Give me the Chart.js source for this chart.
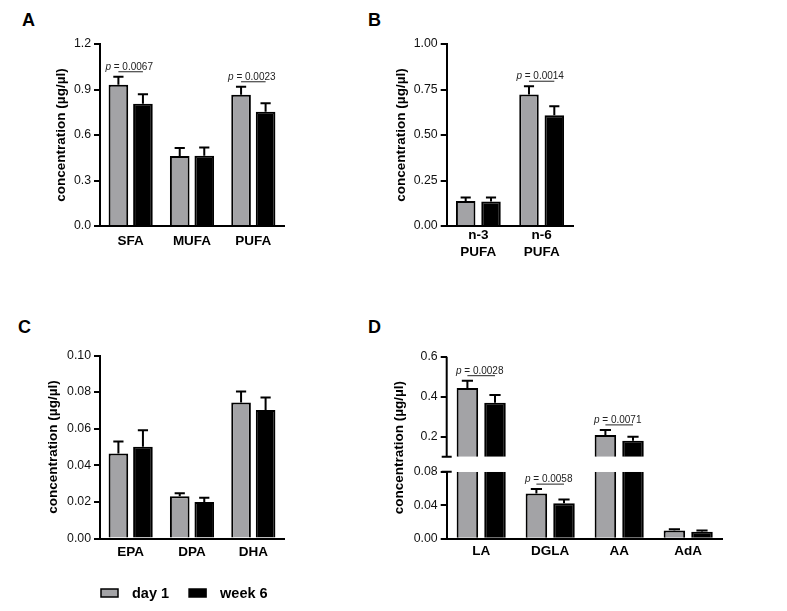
<!DOCTYPE html>
<html><head><meta charset="utf-8">
<script src="https://cdn.jsdelivr.net/npm/chart.js@4.4.0/dist/chart.umd.min.js"></script>
<style>
html,body{margin:0;padding:0;background:#fff;width:787px;height:611px;overflow:hidden;font-family:"Liberation Sans",Arial,sans-serif;}
canvas{position:absolute;}
.letter{position:absolute;font:bold 18px/18px "Liberation Sans",Arial,sans-serif;color:#000;}
</style></head><body>
<div class="letter" style="left:22px;top:11px">A</div>
<div class="letter" style="left:368px;top:11px">B</div>
<div class="letter" style="left:18px;top:318px">C</div>
<div class="letter" style="left:368px;top:318px">D</div>
<canvas id="cA" width="300" height="270" style="left:0;top:0"></canvas>
<canvas id="cB" width="200" height="270" style="left:380px;top:0"></canvas>
<canvas id="cC" width="300" height="311" style="left:0;top:300px"></canvas>
<canvas id="cD" width="400" height="270" style="left:380px;top:300px"></canvas>
<script>
// ---------- DATA ----------
const SERIES_NAMES = ['day 1', 'week 6'];
const Y_TITLE = 'concentration (µg/µl)';

const LABELS_A = ['SFA', 'MUFA', 'PUFA'];
const DAY1_A = [0.932, 0.462, 0.866];
const DAY1_A_ERR = [0.052, 0.052, 0.052];
const WEEK6_A = [0.806, 0.464, 0.753];
const WEEK6_A_ERR = [0.062, 0.054, 0.056];
const P_A = ['0.0067', null, '0.0023'];
const TICKS_A = [0, 0.3, 0.6, 0.9, 1.2];

const LABELS_B = [['n-3', 'PUFA'], ['n-6', 'PUFA']];
const DAY1_B = [0.138, 0.722];
const DAY1_B_ERR = [0.018, 0.046];
const WEEK6_B = [0.134, 0.608];
const WEEK6_B_ERR = [0.022, 0.050];
const P_B = [null, '0.0014'];
const TICKS_B = [0, 0.25, 0.5, 0.75, 1.0];

const LABELS_C = ['EPA', 'DPA', 'DHA'];
const DAY1_C = [0.0465, 0.0231, 0.0743];
const DAY1_C_ERR = [0.0065, 0.0016, 0.0060];
const WEEK6_C = [0.0502, 0.0200, 0.0702];
const WEEK6_C_ERR = [0.0089, 0.0022, 0.0069];
const P_C = [null, null, null];
const TICKS_C = [0, 0.02, 0.04, 0.06, 0.08, 0.10];

const LABELS_D = ['LA', 'DGLA', 'AA', 'AdA'];
const DAY1_D = [0.444, 0.0541, 0.208, 0.0098];
const DAY1_D_ERR = [0.036, 0.0051, 0.026, 0.0016];
const WEEK6_D = [0.370, 0.0424, 0.180, 0.0082];
const WEEK6_D_ERR = [0.038, 0.0043, 0.020, 0.0016];
const P_D = ['0.0028', '0.0058', '0.0071', null];
const TICKS_D_LOW = [0, 0.04, 0.08];
const TICKS_D_HIGH = [0.2, 0.4, 0.6];
const BREAK_LOW = 0.08;   // top of lower axis segment
const BREAK_HIGH = 0.1;   // bottom of upper axis segment

// ---------- STYLE ----------
const FONT = '"Liberation Sans", Arial, sans-serif';
const GRAY = '#a3a3a6';
const BLACK = '#000000';
const TITLE_SIZE = 13.5;
Chart.defaults.font.family = FONT;
Chart.defaults.color = '#111';

function errVisible(ds, scale, i) {
  if (!ds.errs || ds.data[i] == null) return false;
  const m = ds.means[i], t = m + ds.errs[i];
  return m >= scale.min && t <= scale.max + 1e-9;
}

const errorBars = {
  id: 'errorBars',
  afterDatasetsDraw(chart) {
    const ctx = chart.ctx;
    ctx.save();
    ctx.strokeStyle = BLACK; ctx.lineWidth = 2; ctx.lineCap = 'butt';
    chart.data.datasets.forEach((ds, di) => {
      if (!ds.errs) return;
      const meta = chart.getDatasetMeta(di);
      const scale = chart.scales[meta.yAxisID];
      meta.data.forEach((el, i) => {
        if (!errVisible(ds, scale, i)) return;
        const x = el.x;
        const y0 = scale.getPixelForValue(ds.means[i]);
        const y1 = scale.getPixelForValue(ds.means[i] + ds.errs[i]);
        const hw = el.width * 0.26;
        ctx.beginPath();
        ctx.moveTo(x, y0); ctx.lineTo(x, y1);
        ctx.moveTo(x - hw, y1); ctx.lineTo(x + hw, y1);
        ctx.stroke();
      });
    });
    ctx.restore();
  }
};

const pvalPlugin = {
  id: 'pvals',
  afterDatasetsDraw(chart, args, opts) {
    const vals = opts.values || [];
    const ctx = chart.ctx;
    vals.forEach((p, i) => {
      if (!p) return;
      const tops = []; const xs = {};
      chart.data.datasets.forEach((ds, di) => {
        const meta = chart.getDatasetMeta(di);
        const scale = chart.scales[meta.yAxisID];
        if (!errVisible(ds, scale, i)) return;
        tops.push(scale.getPixelForValue(ds.means[i] + ds.errs[i]));
        xs[ds.grp] = meta.data[i].x;
      });
      if (!tops.length || xs.day1 == null || xs.week6 == null) return;
      const ly = Math.min(...tops) - 5;
      const x0 = xs.day1, x1 = xs.week6;
      ctx.save();
      ctx.strokeStyle = '#222'; ctx.lineWidth = 1;
      ctx.beginPath(); ctx.moveTo(x0, ly); ctx.lineTo(x1, ly); ctx.stroke();
      ctx.fillStyle = '#222'; ctx.textBaseline = 'alphabetic';
      ctx.font = 'italic 10px ' + FONT;
      const w1 = ctx.measureText('p').width;
      ctx.font = '10px ' + FONT;
      const rest = ' = ' + p;
      const w2 = ctx.measureText(rest).width;
      const sx = (x0 + x1) / 2 - 1.5 - (w1 + w2) / 2;
      ctx.font = 'italic 10px ' + FONT;
      ctx.fillText('p', sx, ly - 2);
      ctx.font = '10px ' + FONT;
      ctx.fillText(rest, sx + w1, ly - 2);
      ctx.restore();
    });
  }
};

const customLegend = {
  id: 'customLegend',
  afterDraw(chart, args, opts) {
    if (!opts.show) return;
    const ctx = chart.ctx;
    const y = chart.chartArea.bottom + 54.5;
    let x = chart.chartArea.left + 1;
    ctx.save();
    ctx.font = 'bold 14.5px ' + FONT;
    ctx.textBaseline = 'middle';
    chart.data.datasets.forEach(ds => {
      ctx.fillStyle = ds.backgroundColor;
      ctx.fillRect(x, y - 4, 17, 8);
      ctx.strokeStyle = BLACK; ctx.lineWidth = 1.5;
      ctx.strokeRect(x, y - 4, 17, 8);
      x += 17 + 14;
      ctx.fillStyle = '#000';
      ctx.fillText(ds.label, x, y + 0.5);
      x += ctx.measureText(ds.label).width + 20;
    });
    ctx.restore();
  }
};

const brokenAxis = {
  id: 'brokenAxis',
  afterDraw(chart, args, opts) {
    if (!opts.show) return;
    const ctx = chart.ctx;
    const hi = chart.scales.yHigh, lo = chart.scales.yLow;
    const ax = chart.chartArea.left;
    ctx.save();
    ctx.strokeStyle = BLACK; ctx.lineWidth = 2;
    ctx.beginPath();
    ctx.moveTo(ax, hi.getPixelForValue(hi.max)); ctx.lineTo(ax, hi.getPixelForValue(BREAK_HIGH));
    const yb = hi.getPixelForValue(BREAK_HIGH);
    ctx.moveTo(ax - 5, yb); ctx.lineTo(ax + 5, yb);
    const yt = lo.getPixelForValue(BREAK_LOW);
    ctx.moveTo(ax - 5, yt); ctx.lineTo(ax + 5, yt);
    ctx.stroke();
    // shared y-axis title
    ctx.font = 'bold ' + TITLE_SIZE + 'px ' + FONT;
    ctx.fillStyle = '#000';
    ctx.textAlign = 'center'; ctx.textBaseline = 'middle';
    ctx.translate(lo.left + TITLE_SIZE * 0.6 + 3, (chart.chartArea.top + chart.chartArea.bottom) / 2);
    ctx.rotate(-Math.PI / 2);
    ctx.fillText(Y_TITLE, 0, 0);
    ctx.restore();
  }
};

function yAxisCommon(ticks, decimals, g) {
  return {
    afterBuildTicks: s => { s.ticks = ticks.map(v => ({value: v})); },
    ticks: {callback: v => Number(v).toFixed(decimals), color: '#111', font: {size: 12.3}, padding: 3},
    grid: {display: true, drawOnChartArea: false, drawTicks: true, tickLength: 6, color: BLACK, lineWidth: 2},
    border: {display: true, color: BLACK, width: 2},
    afterFit: s => { s.width = g.yWidth; }
  };
}
function xAxisCommon(g) {
  return {
    grid: {display: false, drawTicks: false},
    border: {display: true, color: BLACK, width: 2},
    ticks: {color: '#000', font: {size: 13.5, weight: 'bold'}, padding: g.xPad, maxRotation: 0, autoSkip: false},
    afterFit: s => { s.height = g.xHeight; }
  };
}

function makeSimple(id, labels, d1, e1, d2, e2, pvals, ticks, decimals, g, legend) {
  const y = Object.assign(yAxisCommon(ticks, decimals, g), {
    min: ticks[0], max: ticks[ticks.length - 1],
    title: {display: true, text: Y_TITLE, color: '#000', font: {size: TITLE_SIZE, weight: 'bold'}, padding: {top: g.titlePad, bottom: 0}}
  });
  return new Chart(document.getElementById(id), {
    type: 'bar',
    data: {labels, datasets: [
      {label: SERIES_NAMES[0], grp: 'day1', data: d1, means: d1, errs: e1, backgroundColor: GRAY, borderColor: BLACK, borderWidth: 2},
      {label: SERIES_NAMES[1], grp: 'week6', data: d2, means: d2, errs: e2, backgroundColor: BLACK, borderColor: BLACK, borderWidth: 2}
    ]},
    options: {
      responsive: false, animation: false, events: [],
      layout: {padding: g.padding},
      datasets: {bar: {categoryPercentage: 0.8, barPercentage: g.barPct}},
      plugins: {legend: {display: false}, tooltip: {enabled: false}, pvals: {values: pvals}, customLegend: {show: !!legend}},
      scales: {x: xAxisCommon(g), y}
    },
    plugins: [errorBars, pvalPlugin, customLegend]
  });
}

makeSimple('cA', LABELS_A, DAY1_A, DAY1_A_ERR, WEEK6_A, WEEK6_A_ERR, P_A, TICKS_A, 1,
  {padding: {left: 48, right: 16, top: 44, bottom: 4}, yWidth: 52, titlePad: 5, xHeight: 40, xPad: 7.5, barPct: 0.8});
makeSimple('cB', LABELS_B, DAY1_B, DAY1_B_ERR, WEEK6_B, WEEK6_B_ERR, P_B, TICKS_B, 2,
  {padding: {left: 8, right: 6.7, top: 44, bottom: 4}, yWidth: 58.7, titlePad: 5, xHeight: 40, xPad: 1.5, barPct: 0.77});
makeSimple('cC', LABELS_C, DAY1_C, DAY1_C_ERR, WEEK6_C, WEEK6_C_ERR, P_C, TICKS_C, 2,
  {padding: {left: 40, right: 16, top: 55.5, bottom: 32.5}, yWidth: 60, titlePad: 5, xHeight: 40, xPad: 6, barPct: 0.8}, true);

// Panel D: broken y axis made of two stacked scales
(function () {
  const gD = {padding: {left: 8, right: 57.3, top: 56.7, bottom: 3.3}, yWidth: 58.7, xHeight: 28, xPad: 4.5};
  const lowWidth = (ctx, vals) => vals[ctx.dataIndex] > BREAK_LOW ? {top: 0, bottom: 0, left: 2, right: 2} : 2;
  const mk = (name, grp, vals, errs, color, axis) => ({
    label: name, grp, yAxisID: axis, stack: grp, means: vals, errs,
    data: axis === 'yLow' ? vals.map(v => [0, Math.min(v, BREAK_LOW)])
                          : vals.map(v => v > BREAK_HIGH ? [BREAK_HIGH, v] : null),
    backgroundColor: color, borderColor: BLACK,
    borderWidth: axis === 'yLow' ? (ctx => lowWidth(ctx, vals)) : 2
  });
  const yLow = Object.assign(yAxisCommon(TICKS_D_LOW, 2, gD), {
    type: 'linear', position: 'left', stack: 'dAxis', stackWeight: 67, stacked: false, min: 0, max: BREAK_LOW
  });
  const yHigh = Object.assign(yAxisCommon(TICKS_D_HIGH, 1, gD), {
    type: 'linear', position: 'left', stack: 'dAxis', stackWeight: 115, stacked: false, min: 0.025, max: 0.6
  });
  yHigh.border = {display: false};
  new Chart(document.getElementById('cD'), {
    type: 'bar',
    data: {labels: LABELS_D, datasets: [
      mk(SERIES_NAMES[0], 'day1', DAY1_D, DAY1_D_ERR, GRAY, 'yLow'),
      mk(SERIES_NAMES[1], 'week6', WEEK6_D, WEEK6_D_ERR, BLACK, 'yLow'),
      mk(SERIES_NAMES[0], 'day1', DAY1_D, DAY1_D_ERR, GRAY, 'yHigh'),
      mk(SERIES_NAMES[1], 'week6', WEEK6_D, WEEK6_D_ERR, BLACK, 'yHigh')
    ]},
    options: {
      responsive: false, animation: false, events: [],
      layout: {padding: gD.padding},
      datasets: {bar: {categoryPercentage: 0.8, barPercentage: 0.78}},
      plugins: {legend: {display: false}, tooltip: {enabled: false}, pvals: {values: P_D}, brokenAxis: {show: true}},
      scales: {x: xAxisCommon(gD), yLow, yHigh}
    },
    plugins: [errorBars, pvalPlugin, brokenAxis]
  });
})();
</script>
</body></html>
